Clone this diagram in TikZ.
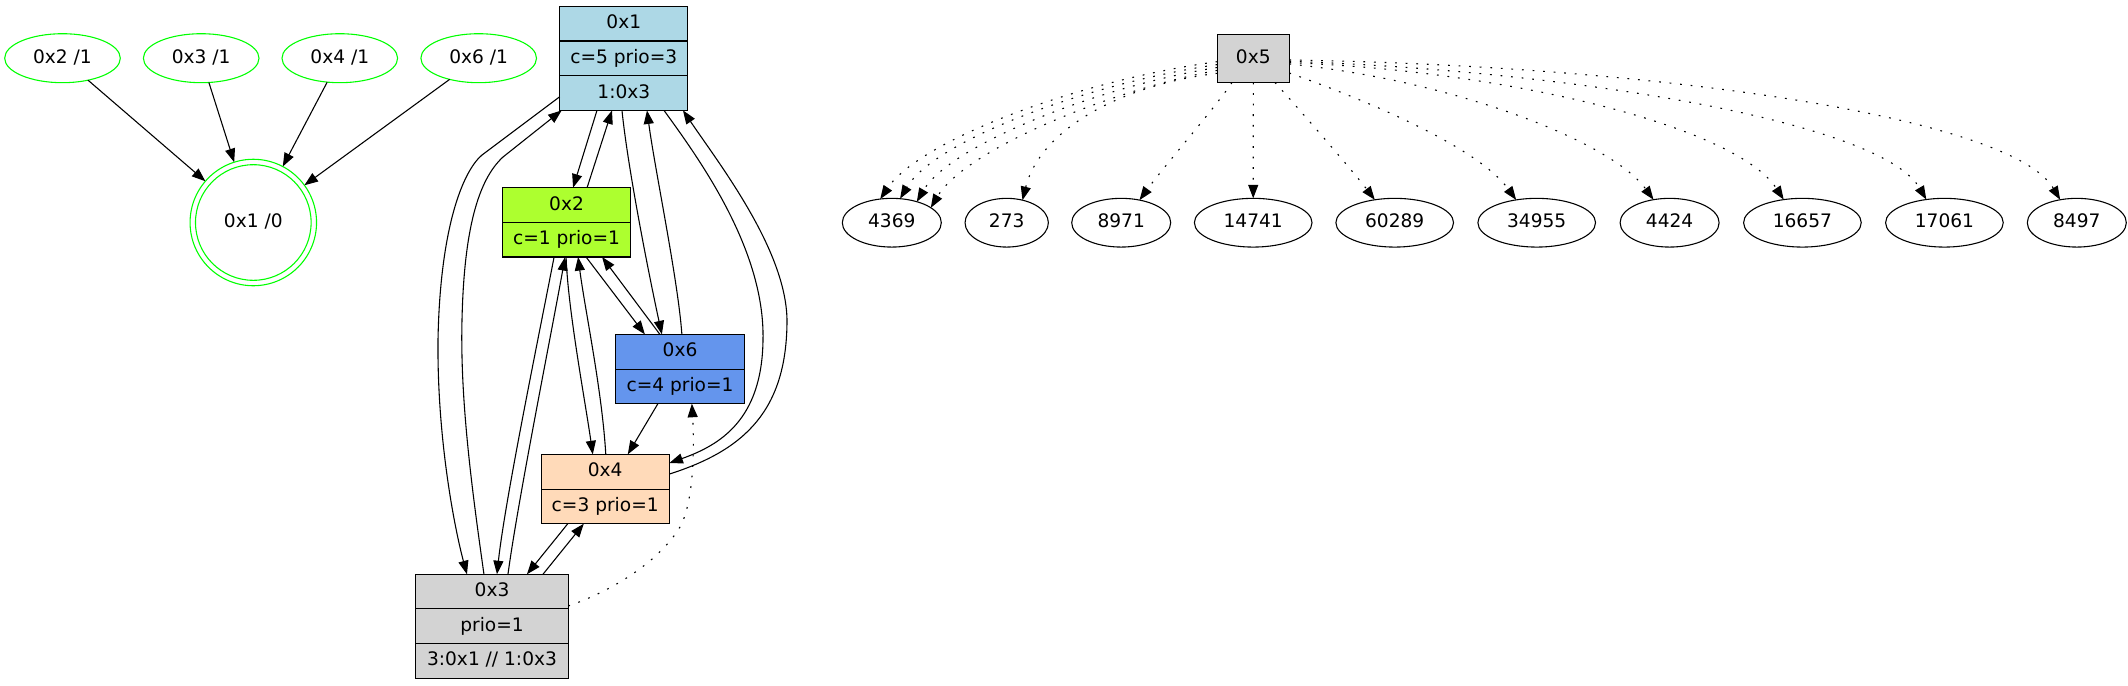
\documentclass[tikz,border=0pt]{standalone}
\usepackage{fontspec}
\setmainfont{DejaVu Sans}
\usetikzlibrary{shapes.geometric,arrows.meta,positioning,calc}
\definecolor{lblue}{HTML}{ADD8E6}
\definecolor{gyellow}{HTML}{ADFF2F}
\definecolor{cblue}{HTML}{6495ED}
\definecolor{peach}{HTML}{FFDAB9}
\definecolor{lgrey}{HTML}{D3D3D3}
\definecolor{gvgreen}{HTML}{00FF00}
\tikzset{
  txt/.style={text height=10.2pt, text depth=2.8pt},
  rowbox/.style={rectangle, draw=black, line width=0.8pt, minimum height=25.55pt, inner sep=0pt, outer sep=0pt, txt},
  gell/.style={ellipse, draw=gvgreen, line width=0.8pt, minimum width=85.2pt, minimum height=36.1pt, inner sep=0pt, outer sep=0pt, txt},
  bell/.style={ellipse, draw=black, line width=0.8pt, minimum height=35.9pt, inner sep=0pt, outer sep=0pt, txt},
  conn/.style={line width=0.8pt, -{Triangle[length=10pt,width=7.4pt]}},
  dconn/.style={conn, dash pattern=on 1.3pt off 6.5pt},
}
\begin{document}
\begin{tikzpicture}[x=0.7369pt, y=-0.7369pt, font=\fontsize{13.7}{16}\selectfont]
\useasboundingbox (0,0) rectangle (2128,685);

% green ellipses
\node[gell] (g2) at (62.5,58.2) {0x2 /1};
\node[gell] (g3) at (201.2,58.2) {0x3 /1};
\node[gell] (g4) at (339.8,58.2) {0x4 /1};
\node[gell] (g6) at (478.7,58.2) {0x6 /1};
\node[circle, draw=gvgreen, line width=0.8pt, minimum size=93.2pt, inner sep=0pt, outer sep=0pt, txt] (g1) at (253.3,222.5) {0x1 /0};
\draw[gvgreen, line width=0.8pt] (g1.center) circle[radius=42.6pt];

\draw[conn] (g2) -- (g1);
\draw[conn] (g3) -- (g1);
\draw[conn] (g4) -- (g1);
\draw[conn] (g6) -- (g1);

% record boxes
\node[rowbox, fill=lblue, minimum width=94.5pt] (n1a) at (623.8,23.7) {0x1};
\node[rowbox, fill=lblue, minimum width=94.5pt, below=0pt of n1a] (n1b) {c=5 prio=3};
\node[rowbox, fill=lblue, minimum width=94.5pt, below=0pt of n1b] (n1c) {1:0x3};

\node[rowbox, fill=gyellow, minimum width=94.5pt] (n2a) at (566.5,205) {0x2};
\node[rowbox, fill=gyellow, minimum width=94.5pt, below=0pt of n2a] (n2b) {c=1 prio=1};

\node[rowbox, fill=cblue, minimum width=94.5pt] (n6a) at (680,351.7) {0x6};
\node[rowbox, fill=cblue, minimum width=94.5pt, below=0pt of n6a] (n6b) {c=4 prio=1};

\node[rowbox, fill=peach, minimum width=94.5pt] (n4a) at (605.2,471.7) {0x4};
\node[rowbox, fill=peach, minimum width=94.5pt, below=0pt of n4a] (n4b) {c=3 prio=1};

\node[rowbox, fill=lgrey, minimum width=112.5pt] (n3a) at (492,591.6) {0x3};
\node[rowbox, fill=lgrey, minimum width=112.5pt, below=0pt of n3a] (n3b) {prio=1};
\node[rowbox, fill=lgrey, minimum width=112.5pt, below=0pt of n3b] (n3c) {3:0x1 // 1:0x3};

% edges among records
\draw[conn] ($(n1c.south west)+(0,-13.6)$) -- (482,155) .. controls (462,172) and (440,230) .. (438,340) .. controls (437,440) and (455,530) .. ($(n3a.north west)+(51.3,0)$);
\draw[conn] ($(n3a.north west)+(68.3,0)$) .. controls (472,490) and (460,400) .. (462,320) .. controls (464,230) and (478,180) .. (503,157) -- ($(n1c.south west)+(2,0)$);
\draw[conn] ($(n1c.south west)+(37.3,0)$) -- ($(n2a.north west)+(70.7,0)$);
\draw[conn] ($(n2a.north west)+(84.7,0)$) -- ($(n1c.south west)+(52.3,0)$);
\draw[conn] ($(n1c.south west)+(62.3,0)$) .. controls (628,170) and (650,280) .. ($(n6a.north west)+(46,0)$);
\draw[conn] ($(n6a.north west)+(66,0)$) .. controls (678,280) and (655,170) .. ($(n1c.south west)+(87.3,0)$);
\draw[conn] ($(n1c.south west)+(104.3,0)$) .. controls (700,160) and (765,250) .. (763,340) .. controls (762,420) and (720,445) .. ($(n4a.north east)+(0,8.7)$);
\draw[conn] ($(n4a.north east)+(0,19.7)$) .. controls (745,450) and (787,410) .. (787,320) .. controls (786,250) and (720,165) .. ($(n1c.south west)+(123.3,0)$);
\draw[conn] ($(n2b.south west)+(51.7,0)$) .. controls (540,330) and (505,500) .. ($(n3a.north west)+(81.3,0)$);
\draw[conn] ($(n3a.north west)+(92.3,0)$) .. controls (518,500) and (552,330) .. ($(n2b.south west)+(62.7,0)$);
\draw[conn] ($(n2b.south west)+(63.7,0)$) .. controls (568,310) and (585,400) .. ($(n4a.north west)+(51.7,0)$);
\draw[conn] ($(n4a.north west)+(64.7,0)$) .. controls (602,390) and (585,310) .. ($(n2b.south west)+(75.7,0)$);
\draw[conn] ($(n2b.south west)+(83.7,0)$) -- ($(n6a.north west)+(29,0)$);
\draw[conn] ($(n6a.north west)+(44,0)$) -- ($(n2b.south west)+(99.7,0)$);
\draw[conn] ($(n6b.south west)+(42,0)$) -- ($(n4a.north west)+(86.7,0)$);
\draw[conn] ($(n4b.south west)+(26.7,0)$) -- ($(n3a.north west)+(111.3,0)$);
\draw[conn] ($(n3a.north west)+(127.3,0)$) -- ($(n4b.south west)+(42.7,0)$);
\draw[dconn] ($(n3a.north east)+(0,31.7)$) .. controls (615,590) and (660,560) .. (680,527) .. controls (695,500) and (694,440) .. ($(n6b.south west)+(76,0)$);

% 0x5 and its targets
\node[rectangle, draw=black, fill=lgrey, line width=0.8pt, minimum width=53.1pt, minimum height=35.5pt, inner sep=0pt, outer sep=0pt, txt] (n5) at (1253.3,58.4) {0x5};

\node[bell, minimum width=72.95pt] (e4369) at (891.8,222.7) {4369};
\node[bell, minimum width=61.4pt] (e273) at (1006.7,222.7) {273};
\node[bell, minimum width=72.95pt] (e8971) at (1121.2,222.7) {8971};
\node[bell, minimum width=86.7pt] (e14741) at (1253.2,222.7) {14741};
\node[bell, minimum width=86.7pt] (e60289) at (1394.7,222.7) {60289};
\node[bell, minimum width=86.7pt] (e34955) at (1536.7,222.7) {34955};
\node[bell, minimum width=72.95pt] (e4424) at (1669.6,222.7) {4424};
\node[bell, minimum width=86.7pt] (e16657) at (1802.4,222.7) {16657};
\node[bell, minimum width=86.7pt] (e17061) at (1944.4,222.7) {17061};
\node[bell, minimum width=72.95pt] (e8497) at (2076.8,222.7) {8497};

\draw[dconn] ($(n5.south west)+(0,-20.8)$) .. controls (1080,80) and (920,140) .. (e4369.116);
\draw[dconn] ($(n5.south west)+(0,-17.9)$) .. controls (1090,83) and (935,140) .. (e4369.71);
\draw[dconn] ($(n5.south west)+(0,-15)$) .. controls (1100,86) and (950,145) .. (e4369.40);
\draw[dconn] ($(n5.south west)+(0,-12.1)$) .. controls (1110,90) and (965,150) .. (e4369.21);
\draw[dconn] ($(n5.south west)+(0,-9.2)$) .. controls (1120,85) and (1040,130) .. (e273.55);
\draw[dconn] ($(n5.south west)+(14.7,0)$) .. controls (1215,108) and (1165,165) .. (e8971.51);
\draw[dconn] (n5.south) -- (e14741.north);
\draw[dconn] ($(n5.south west)+(57.7,0)$) .. controls (1300,110) and (1352,170) .. (e60289.131);
\draw[dconn] ($(n5.north east)+(0,38.7)$) .. controls (1380,105) and (1480,150) .. (e34955.132);
\draw[dconn] ($(n5.north east)+(0,29.7)$) .. controls (1450,80) and (1610,140) .. (e4424.125);
\draw[dconn] ($(n5.north east)+(0,28.4)$) .. controls (1500,70) and (1735,125) .. (e16657.129);
\draw[dconn] ($(n5.north east)+(0,27)$) .. controls (1560,70) and (1880,120) .. (e17061.128);
\draw[dconn] ($(n5.north east)+(0,25.7)$) .. controls (1640,65) and (2010,115) .. (e8497.126);
\end{tikzpicture}
\end{document}
